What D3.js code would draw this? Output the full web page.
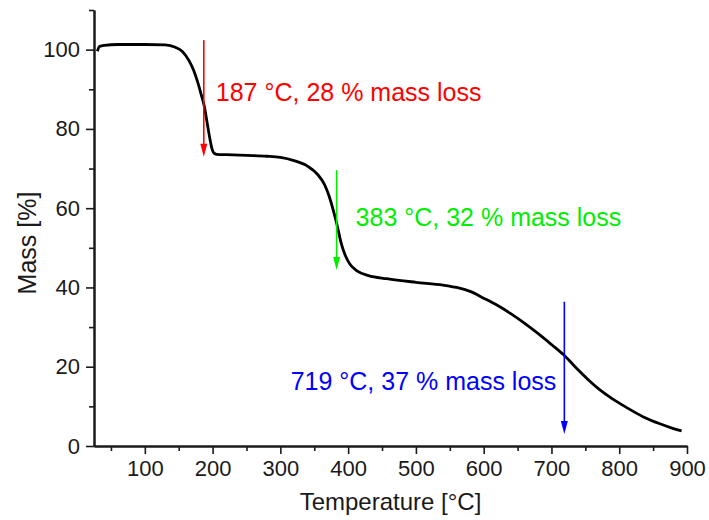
<!DOCTYPE html>
<html>
<head>
<meta charset="utf-8">
<script src="https://cdn.jsdelivr.net/npm/d3@7"></script>
<style>
  body { margin: 0; background: #fff; }
  svg text { font-family: "Liberation Sans", Arial, sans-serif; }
</style>
</head>
<body>
<div id="graph"></div>
<script>
// TGA curve
const temperature = [30, 33, 40, 60, 100, 130, 145, 155, 165, 172, 178, 183, 188, 192, 196, 199, 202, 206, 220, 250, 280, 300, 320, 340, 355, 365, 372, 378, 384, 390, 396, 403, 413, 430, 457, 500, 540, 560, 580, 600, 620, 640, 660, 680, 700, 718, 737, 755, 772, 790, 810, 835, 860, 880, 892];
const mass = [99.6, 100.8, 101.1, 101.3, 101.3, 101.2, 100.6, 99.6, 97.3, 94.8, 91.8, 88.8, 85.5, 81.5, 77.5, 75.0, 73.9, 73.6, 73.5, 73.3, 73.1, 72.8, 72.0, 70.6, 68.5, 66.0, 63.0, 59.5, 55.5, 51.0, 48.0, 45.8, 44.2, 43.0, 42.2, 41.3, 40.6, 40.0, 39.0, 37.3, 35.5, 33.4, 31.0, 28.4, 25.6, 23.0, 19.6, 16.6, 14.1, 11.9, 9.8, 7.4, 5.6, 4.4, 3.8];

// mass loss steps
const stepTemp = [187, 383, 719];
const stepFrom = [102.4, 69.6, 36.4];
const stepTo = [73, 44.4, 3];
const stepLoss = [28, 32, 37];
const stepLabelMass = [87, 55.4, 14.1];
const stepColor = ["#ff0000", "#00ee00", "#0000ff"];

const xTicks = [100, 200, 300, 400, 500, 600, 700, 800, 900];
const xMinor = [50, 150, 250, 350, 450, 550, 650, 750, 850];
const yTicks = [0, 20, 40, 60, 80, 100];
const yMinor = [10, 30, 50, 70, 90, 110];

const W = 709, H = 520;
const margin = { left: 94, right: 22, top: 10, bottom: 74 };

const svg = d3.select("#graph").append("svg")
    .attr("width", W)
    .attr("height", H);

const x = d3.scaleLinear().domain([25, 900]).range([margin.left, W - margin.right]);
const y = d3.scaleLinear().domain([0, 110]).range([H - margin.bottom, margin.top]);

// axes
const gx = svg.append("g")
    .attr("transform", "translate(0," + y(0) + ")");
gx.append("g").call(d3.axisBottom(x).tickValues(xMinor).tickSize(5).tickFormat("").tickSizeOuter(0));
gx.append("g").call(d3.axisBottom(x).tickValues(xTicks).tickSize(8).tickPadding(6).tickSizeOuter(0));

const gy = svg.append("g")
    .attr("transform", "translate(" + x(25) + ",0)");
gy.append("g").call(d3.axisLeft(y).tickValues(yMinor).tickSize(5).tickFormat("").tickSizeOuter(0));
gy.append("g").call(d3.axisLeft(y).tickValues(yTicks).tickSize(8).tickPadding(6).tickSizeOuter(0));

svg.selectAll(".domain").attr("stroke", "#1a1a1a").attr("stroke-width", 2);
svg.selectAll(".tick line").attr("stroke", "#1a1a1a").attr("stroke-width", 1.6);
svg.selectAll(".tick text").attr("font-size", 22).attr("fill", "#1a1a1a")
    .style("font-family", "Liberation Sans, Arial, sans-serif");

// axis titles
svg.append("text")
    .attr("x", (x(25) + x(900)) / 2)
    .attr("y", 510)
    .attr("text-anchor", "middle")
    .attr("font-size", 24)
    .attr("fill", "#1a1a1a")
    .text("Temperature [°C]");

svg.append("text")
    .attr("transform", "translate(36," + 243 + ") rotate(-90)")
    .attr("text-anchor", "middle")
    .attr("font-size", 25)
    .attr("fill", "#1a1a1a")
    .text("Mass [%]");

// curve
const points = temperature.map((t, i) => [t, mass[i]]);
const line = d3.line()
    .x(d => x(d[0]))
    .y(d => y(d[1]))
    .curve(d3.curveMonotoneX);

svg.append("path")
    .datum(points)
    .attr("fill", "none")
    .attr("stroke", "#000")
    .attr("stroke-width", 2.8)
    .attr("stroke-linejoin", "round")
    .attr("d", line);

// arrows + labels (label offset from arrow, px)
const labelDx = [12, 19, -8];
stepTemp.forEach((t, i) => {
    const ax = x(t), y0 = y(stepFrom[i]), y1 = y(stepTo[i]);
    const c = stepColor[i];
    svg.append("line")
        .attr("x1", ax).attr("x2", ax)
        .attr("y1", y0).attr("y2", y1 - 10)
        .attr("stroke", c)
        .attr("stroke-width", 1.6);
    svg.append("path")
        .attr("d", "M" + (ax - 3.5) + "," + (y1 - 13) + "L" + (ax + 3.5) + "," + (y1 - 13) + "L" + ax + "," + y1 + "Z")
        .attr("fill", c);
    svg.append("text")
        .attr("x", ax + labelDx[i])
        .attr("y", y(stepLabelMass[i]))
        .attr("text-anchor", labelDx[i] > 0 ? "start" : "end")
        .attr("font-size", 25)
        .attr("fill", c)
        .text(t + " °C, " + stepLoss[i] + " % mass loss");
});
</script>
</body>
</html>
